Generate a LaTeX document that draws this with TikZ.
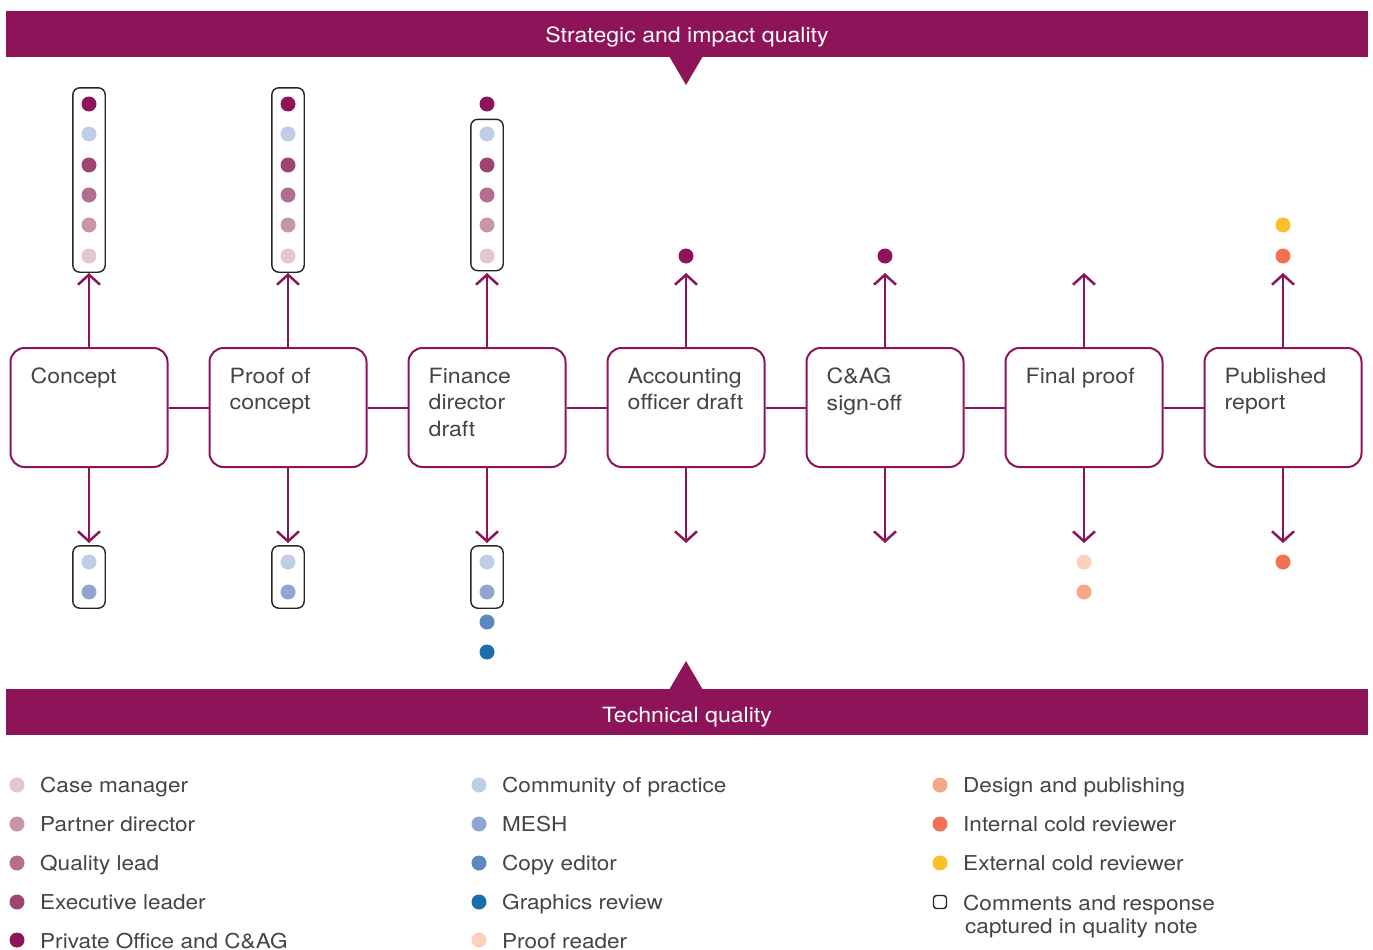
\documentclass[tikz,border=0pt]{standalone}
\usepackage{fontspec}
\setmainfont{TeX Gyre Heros}[FakeStretch=1.1]
\usetikzlibrary{arrows.meta,fit}

% palette
\definecolor{cPO}{HTML}{8D1458}   % Private Office and C&AG
\definecolor{cEL}{HTML}{9E4473}   % Executive leader
\definecolor{cQL}{HTML}{B36D8F}   % Quality lead
\definecolor{cPD}{HTML}{C795AB}   % Partner director
\definecolor{cCM}{HTML}{E2C6D2}   % Case manager
\definecolor{cCoP}{HTML}{C0CDE6}  % Community of practice
\definecolor{cMESH}{HTML}{8FA7D0} % MESH
\definecolor{cCE}{HTML}{5D87BE}   % Copy editor
\definecolor{cGR}{HTML}{1A6FAB}   % Graphics review
\definecolor{cPR}{HTML}{FBD0BD}   % Proof reader
\definecolor{cDP}{HTML}{F4A58A}   % Design and publishing
\definecolor{cICR}{HTML}{F07153}  % Internal cold reviewer
\definecolor{cECR}{HTML}{FBBF2A}  % External cold reviewer
\definecolor{txt}{HTML}{444444}

\tikzset{
  stagebox/.style={draw=cPO, line width=2pt, rounded corners=14pt,
    minimum width=157pt, minimum height=119pt, inner sep=0pt},
  stagetext/.style={anchor=north west, inner sep=0pt, align=left, text=txt,
    font=\fontsize{21}{26.7}\selectfont},
  link/.style={draw=cPO, line width=2pt},
  arr/.style={draw=cPO, line width=2.5pt, -{Straight Barb[length=10pt,width=22pt]}},
  dot/.style={circle, minimum size=15pt, inner sep=0pt, draw=none},
  frame/.style={draw=black!85, line width=1.4pt, rounded corners=7pt, inner sep=8.5pt},
  banner/.style={fill=cPO, draw=none, minimum width=1362pt, minimum height=46pt,
    inner sep=0pt},
  bannertext/.style={anchor=base, inner sep=0pt, text=white,
    font=\fontsize{21}{26}\selectfont},
  legtext/.style={anchor=base west, inner sep=0pt, text=txt, align=left,
    font=\fontsize{20.5}{23.4}\selectfont},
}

\begin{document}
\begin{tikzpicture}[x=1pt, y=-1pt]
\useasboundingbox (0,0) rectangle (1373,950);

% banners with their pointers
\node[banner] (strat) at (687,34) {};
\fill[cPO] (669,56) -- (703,56) -- (686,85) -- cycle;
\node[bannertext] (strattext) at (687,43) {Strategic and impact quality};
\node[banner] (tech) at (687,712) {};
\fill[cPO] (669,690) -- (703,690) -- (686,661) -- cycle;
\node[bannertext] (techtext) at (687,722) {Technical quality};

% stages
\foreach \i/\x in {1/89, 2/288, 3/487, 4/686, 5/885, 6/1084, 7/1283} {
  \node[stagebox] (b\i) at (\x,407.5) {};
  \coordinate (u\i) at (\x,273);
  \coordinate (w\i) at (\x,543);
}
\node[stagetext] (t1) at ([shift={(21,20.5)}]b1.north west) {Concept};
\node[stagetext] (t2) at ([shift={(21,20.5)}]b2.north west) {Proof of\\concept};
\node[stagetext] (t3) at ([shift={(21,20.5)}]b3.north west) {Finance\\director\\draft};
\node[stagetext] (t4) at ([shift={(21,20.5)}]b4.north west) {Accounting\\officer draft};
\node[stagetext] (t5) at ([shift={(21,20.5)}]b5.north west) {C\&AG\\sign-off};
\node[stagetext] (t6) at ([shift={(21,20.5)}]b6.north west) {Final proof};
\node[stagetext] (t7) at ([shift={(21,20.5)}]b7.north west) {Published\\report};

% links between stages
\foreach \a/\b in {1/2, 2/3, 3/4, 4/5, 5/6, 6/7}
  \draw[link] (b\a.east) -- (b\b.west);

% arrows out of every stage
\foreach \i in {1,...,7} {
  \draw[arr] (b\i.north) -- (u\i);
  \draw[arr] (b\i.south) -- (w\i);
}

% reviewers, stages 1 and 2
\foreach \i/\x in {1/89, 2/288} {
  \node[dot, fill=cPO]   (p\i a) at (\x,104) {};
  \node[dot, fill=cCoP]  (p\i b) at (\x,134) {};
  \node[dot, fill=cEL]   (p\i c) at (\x,165) {};
  \node[dot, fill=cQL]   (p\i d) at (\x,195) {};
  \node[dot, fill=cPD]   (p\i e) at (\x,225) {};
  \node[dot, fill=cCM]   (p\i f) at (\x,256) {};
  \node[frame, fit=(p\i a)(p\i f)] (f\i) {};
  \node[dot, fill=cCoP]  (q\i a) at (\x,562) {};
  \node[dot, fill=cMESH] (q\i b) at (\x,592) {};
  \node[frame, fit=(q\i a)(q\i b)] (g\i) {};
}

% reviewers, stage 3
\node[dot, fill=cPO]   (p3a) at (487,104) {};
\node[dot, fill=cCoP]  (p3b) at (487,134) {};
\node[dot, fill=cEL]   (p3c) at (487,165) {};
\node[dot, fill=cQL]   (p3d) at (487,195) {};
\node[dot, fill=cPD]   (p3e) at (487,225) {};
\node[dot, fill=cCM]   (p3f) at (487,256) {};
\node[frame, inner ysep=7pt, fit=(p3b)(p3f)] (f3) {};
\node[dot, fill=cCoP]  (q3a) at (487,562) {};
\node[dot, fill=cMESH] (q3b) at (487,592) {};
\node[frame, fit=(q3a)(q3b)] (g3) {};
\node[dot, fill=cCE]   (q3c) at (487,622) {};
\node[dot, fill=cGR]   (q3d) at (487,652) {};

% reviewers, stages 4 to 7
\node[dot, fill=cPO]   (p4a) at (686,256) {};
\node[dot, fill=cPO]   (p5a) at (885,256) {};
\node[dot, fill=cPR]   (q6a) at (1084,562) {};
\node[dot, fill=cDP]   (q6b) at (1084,592) {};
\node[dot, fill=cECR]  (p7a) at (1283,225) {};
\node[dot, fill=cICR]  (p7b) at (1283,256) {};
\node[dot, fill=cICR]  (q7a) at (1283,562) {};

% key
\node[dot, fill=cCM]   (k1) at (17,785) {};
\node[dot, fill=cPD]   (k2) at (17,824) {};
\node[dot, fill=cQL]   (k3) at (17,863) {};
\node[dot, fill=cEL]   (k4) at (17,902) {};
\node[dot, fill=cPO]   (k5) at (17,940) {};
\node[legtext] (l1) at (40,792.5) {Case manager};
\node[legtext] (l2) at (40,831.5) {Partner director};
\node[legtext] (l3) at (40,870.5) {Quality lead};
\node[legtext] (l4) at (40,909.5) {Executive leader};
\node[legtext] (l5) at (40,948) {Private Office and C\&AG};

\node[dot, fill=cCoP]  (k6) at (479,785) {};
\node[dot, fill=cMESH] (k7) at (479,824) {};
\node[dot, fill=cCE]   (k8) at (479,863) {};
\node[dot, fill=cGR]   (k9) at (479,902) {};
\node[dot, fill=cPR]   (k10) at (479,940) {};
\node[legtext] (l6) at (502,792.5) {Community of practice};
\node[legtext] (l7) at (502,831.5) {MESH};
\node[legtext] (l8) at (502,870.5) {Copy editor};
\node[legtext] (l9) at (502,909.5) {Graphics review};
\node[legtext] (l10) at (502,948) {Proof reader};

\node[dot, fill=cDP]   (k11) at (940,785) {};
\node[dot, fill=cICR]  (k12) at (940,824) {};
\node[dot, fill=cECR]  (k13) at (940,863) {};
\node[draw=black!85, line width=1.4pt, rounded corners=3pt, minimum size=13pt,
      inner sep=0pt] (k14) at (940,902) {};
\node[legtext] (l11) at (963,792.5) {Design and publishing};
\node[legtext] (l12) at (963,831.5) {Internal cold reviewer};
\node[legtext] (l13) at (963,870.5) {External cold reviewer};
\node[legtext, anchor=north west] (l14) at (963,894.5)
  {Comments and response\\\hspace*{2pt}captured in quality note};
\end{tikzpicture}
\end{document}
